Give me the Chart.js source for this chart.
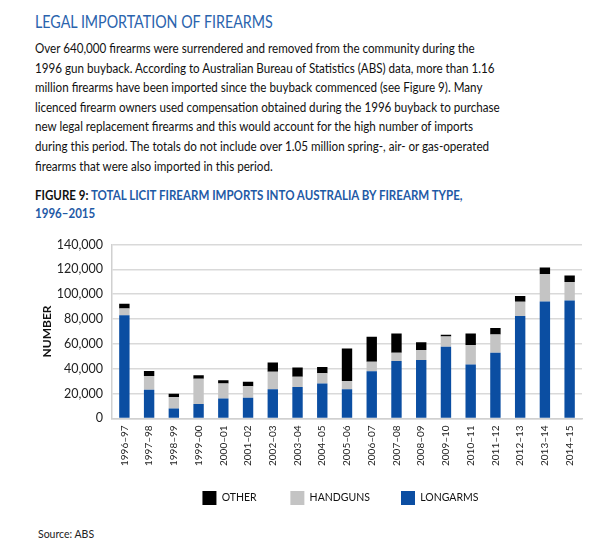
<!DOCTYPE html>
<html>
<head>
<meta charset="utf-8">
<script src="https://cdn.jsdelivr.net/npm/chart.js@4/dist/chart.umd.min.js"></script>
<style>
  body { margin: 0; background: #fff; font-family: Lato, "Open Sans", sans-serif; width: 600px; height: 544px; position: relative; overflow: hidden; }
  .t { position: absolute; left: 35px; white-space: nowrap; transform-origin: 0 0; margin: 0; }
  h1 { top: 12px; font-weight: normal; font-size: 17.5px; line-height: 20px; color: #2a63ad; transform: scaleX(0.815); }
  p { top: 39px; font-size: 13.6px; line-height: 19.6px; color: #111; transform: scaleX(0.855); }
  h2 { top: 186px; font-size: 13.2px; line-height: 18px; color: #1f5aa6; transform: scaleX(0.875); }
  h2 span { color: #111; }
  #wrap { position: absolute; left: 0; top: 228px; width: 600px; height: 287px; }
  #src { position: absolute; left: 38px; top: 528px; font-size: 10.5px; color: #222; }
</style>
</head>
<body>
<h1 class="t">LEGAL IMPORTATION OF FIREARMS</h1>
<p class="t">Over 640,000 firearms were surrendered and removed from the community during the<br>
1996 gun buyback. According to Australian Bureau of Statistics (ABS) data, more than 1.16<br>
million firearms have been imported since the buyback commenced (see Figure 9). Many<br>
licenced firearm owners used compensation obtained during the 1996 buyback to purchase<br>
new legal replacement firearms and this would account for the high number of imports<br>
during this period. The totals do not include over 1.05 million spring-, air- or gas-operated<br>
firearms that were also imported in this period.</p>
<h2 class="t"><span>FIGURE 9:</span> TOTAL LICIT FIREARM IMPORTS INTO AUSTRALIA BY FIREARM TYPE,<br>1996–2015</h2>
<div id="wrap"><canvas id="myChart"></canvas></div>
<div id="src">Source: ABS</div>
<script>
// years on the x axis
var years = ['1996–97','1997–98','1998–99','1999–00','2000–01','2001–02','2002–03','2003–04','2004–05','2005–06',
             '2006–07','2007–08','2008–09','2009–10','2010–11','2011–12','2012–13','2013–14','2014–15'];

var longarms = [83000, 23000, 8000, 11500, 16000, 16600, 23500, 25300, 28000, 23500,
                38000, 46300, 47000, 57600, 43300, 52800, 82400, 94200, 95000];
var handguns = [5500, 11200, 9300, 20500, 12000, 9300, 14000, 8300, 8300, 6700,
                7700, 6500, 8000, 8300, 15700, 14700, 11600, 21800, 14900];
var other = [3800, 4000, 2500, 2800, 2700, 3700, 7500, 7300, 5100, 26000,
             20000, 15500, 6300, 1400, 9300, 5200, 4600, 5400, 5100];

var yTicks = [0, 20000, 40000, 60000, 80000, 100000, 120000, 140000];

Chart.defaults.font.family = 'Lato, "Open Sans", sans-serif';
Chart.defaults.color = '#222';

function ds(label, data, color) {
    return { label: label, data: data, backgroundColor: color, borderWidth: 0,
             barPercentage: 0.42, categoryPercentage: 1 };
}

new Chart('myChart', {
    type: 'bar',
    data: {
        labels: years,
        datasets: [
            ds('LONGARMS', longarms, '#0b4ea2'),
            ds('HANDGUNS', handguns, '#c4c4c4'),
            ds('OTHER', other, '#000000')
        ]
    },
    options: {
        responsive: true,
        maintainAspectRatio: false,
        animation: false,
        layout: { padding: { left: 38, right: 18, top: 12, bottom: 0 } },
        plugins: {
            tooltip: { enabled: false },
            legend: {
                position: 'bottom',
                fullSize: false,
                reverse: true,
                labels: {
                    boxWidth: 14, boxHeight: 14, padding: 18, font: { size: 10.5 }, color: '#111',
                    // extra room between items, the vertical padding stays small
                    generateLabels: function (chart) {
                        var items = Chart.defaults.plugins.legend.labels.generateLabels(chart);
                        items.forEach(function (it) {
                            it.text = it.text + (it.datasetIndex === 2 ? '\u2003\u2003' : '\u2003\u2002');
                        });
                        return items;
                    }
                }
            }
        },
        scales: {
            x: {
                stacked: true,
                grid: { display: false, drawTicks: false },
                border: { color: '#d0d0d0', width: 1.5 },
                ticks: { minRotation: 90, maxRotation: 90, autoSkip: false, padding: 7, font: { size: 10 }, color: '#222' }
            },
            y: {
                stacked: true,
                min: 0, max: 140000,
                afterFit: function (s) { s.width = 74; },
                afterBuildTicks: function (s) { s.ticks = yTicks.map(function (v) { return { value: v }; }); },
                grid: { color: '#d9d9d9', lineWidth: 1.5, drawTicks: false },
                border: { color: '#d0d0d0', width: 1.5 },
                ticks: { padding: 9, font: { size: 12.5 }, color: '#222',
                         callback: function (v) { return v.toLocaleString('en-US'); } },
                title: { display: true, text: 'NUMBER', font: { size: 12, weight: 'bold' }, color: '#111', padding: 2 }
            }
        }
    }
});
</script>
</body>
</html>
